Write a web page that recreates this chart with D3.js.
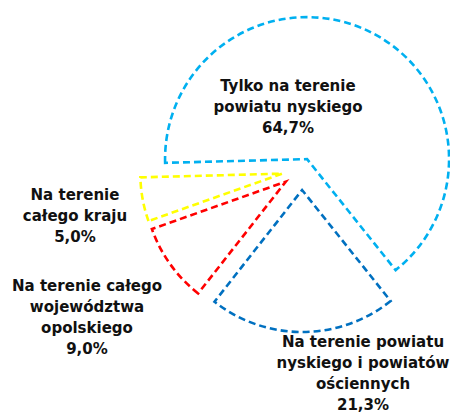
<!DOCTYPE html>
<html>
<head>
<meta charset="utf-8">
<script src="https://cdn.jsdelivr.net/npm/d3@7"></script>
<style>
  html, body { margin: 0; padding: 0; background: #ffffff; }
  svg { display: block; }
</style>
</head>
<body>
<svg id="chart" width="450" height="413"></svg>
<script>
// Zasięg działalności — udział odpowiedzi (%)
const categories = [
  "Tylko na terenie powiatu nyskiego",
  "Na terenie powiatu nyskiego i powiatów ościennych",
  "Na terenie całego województwa opolskiego",
  "Na terenie całego kraju"
];
const values = [64.7, 21.3, 9.0, 5.0];
const valueLabels = ["64,7%", "21,3%", "9,0%", "5,0%"];
const labelLines = [
  ["Tylko na terenie", "powiatu nyskiego"],
  ["Na terenie powiatu", "nyskiego i powiatów", "ościennych"],
  ["Na terenie całego", "województwa", "opolskiego"],
  ["Na terenie", "całego kraju"]
];
const colors = ["#00B0F0", "#0070C0", "#FF0000", "#FFFF00"];

// layout
const cx = 302, cy = 170, radius = 142;
const explode = [12, 20, 20, 20];
const firstSliceDeg = -91.5;
// label anchor: centre x and first baseline y
const labelPos = [[288, 91], [363, 347], [87, 291], [75, 200]];
const lineHeight = 21;

const svg = d3.select("#chart");

const pie = d3.pie()
  .sort(null)
  .value(d => d)
  .startAngle(firstSliceDeg * Math.PI / 180)
  .endAngle(firstSliceDeg * Math.PI / 180 + 2 * Math.PI);

const arc = d3.arc().innerRadius(0).outerRadius(radius);

const arcs = pie(values);

const g = svg.append("g").attr("transform", `translate(${cx},${cy})`);

g.selectAll("path.slice")
  .data(arcs)
  .join("path")
  .attr("class", "slice")
  .attr("d", arc)
  .attr("transform", (d, i) => {
    const mid = (d.startAngle + d.endAngle) / 2;
    const dx = Math.sin(mid) * explode[i];
    const dy = -Math.cos(mid) * explode[i];
    return `translate(${dx},${dy})`;
  })
  .attr("fill", "none")
  .attr("stroke", (d, i) => colors[i])
  .attr("stroke-width", 2.6)
  .attr("stroke-dasharray", "7,4")
  .attr("stroke-linejoin", "miter");

const labels = svg.selectAll("text.lbl")
  .data(arcs)
  .join("text")
  .attr("class", "lbl")
  .attr("text-anchor", "middle")
  .attr("font-family", "'DejaVu Sans Condensed', 'DejaVu Sans', sans-serif")
  .attr("font-weight", "bold")
  .attr("font-size", 16.7)
  .attr("fill", "#111111");

labels.each(function(d, i) {
  const t = d3.select(this);
  const lines = labelLines[i].concat([valueLabels[i]]);
  lines.forEach((s, k) => {
    t.append("tspan")
      .attr("x", labelPos[i][0])
      .attr("y", labelPos[i][1] + k * lineHeight)
      .text(s);
  });
});
</script>
</body>
</html>
